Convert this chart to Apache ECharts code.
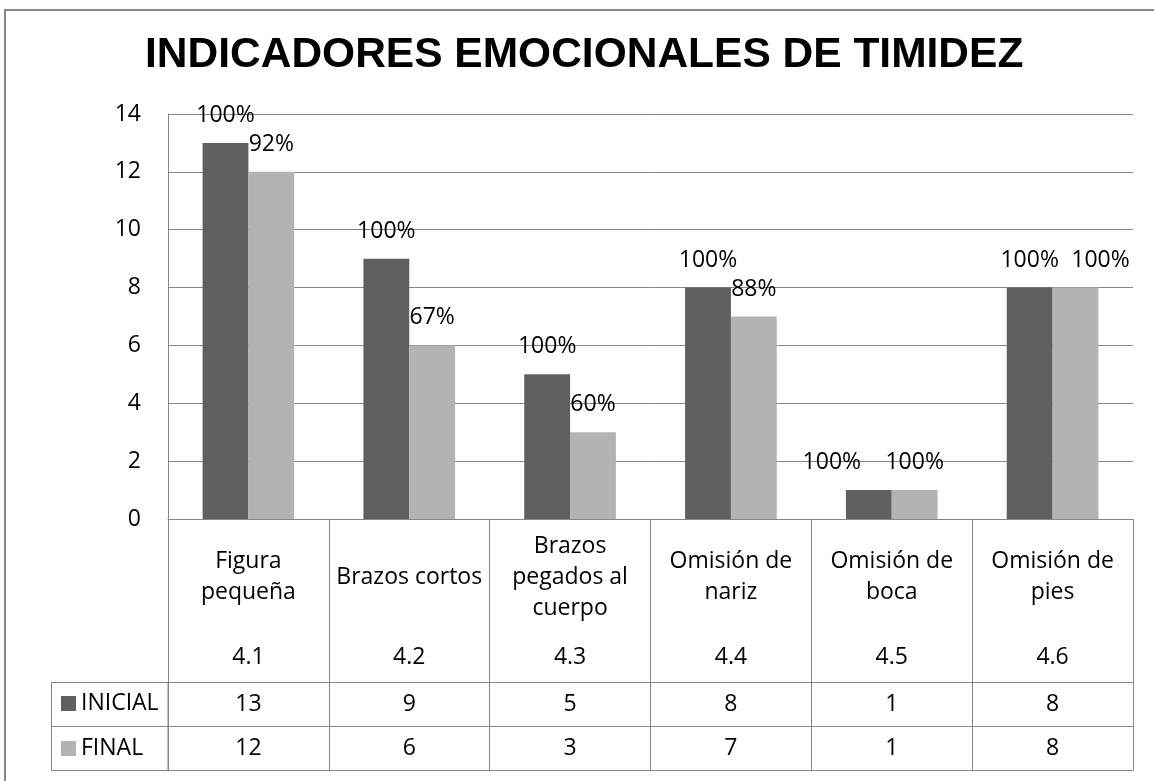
<!DOCTYPE html>
<html>
<head>
<meta charset="utf-8">
<title>Indicadores emocionales de timidez</title>
<script src="https://cdn.jsdelivr.net/npm/echarts@6.0.0/dist/echarts.min.js"></script>
<style>
    html, body { margin: 0; padding: 0; background: #fff; }
    #chart { width: 1154px; height: 781px; }
</style>
</head>
<body>
<div id="chart"></div>
<script>
// datos del grafico
var categories = ['Figura\npequeña', 'Brazos cortos', 'Brazos\npegados al\ncuerpo', 'Omisión de\nnariz', 'Omisión de\nboca', 'Omisión de\npies'];
var codes = ['4.1', '4.2', '4.3', '4.4', '4.5', '4.6'];
var seriesNames = ['INICIAL', 'FINAL'];
var inicial = [13, 9, 5, 8, 1, 8];
var finalVals = [12, 6, 3, 7, 1, 8];
var pctInicial = ['100%', '100%', '100%', '100%', '100%', '100%'];
var pctFinal = ['92%', '67%', '60%', '88%', '100%', '100%'];

var lineColor = '#878787';
var font = "'Open Sans', sans-serif";
var fs = 23;

var myChart = echarts.init(document.getElementById('chart'), null, {renderer: 'canvas'});

// eje extra para las filas de la tabla de datos
function rowAxis(offset, formatter, tickLen, margin) {
    return {
        type: 'category',
        gridIndex: 0,
        position: 'bottom',
        offset: offset,
        data: categories,
        axisLine: {show: true, lineStyle: {color: lineColor, width: 1}},
        axisTick: {show: tickLen > 0, interval: 0, length: tickLen, lineStyle: {color: lineColor, width: 1}},
        axisLabel: {
            show: !!formatter, interval: 0, margin: margin, verticalAlign: 'middle',
            fontSize: fs, fontFamily: font, color: '#000',
            formatter: formatter
        },
        splitLine: {show: false}
    };
}

var codeAxis = rowAxis(0, function (v, i) { return codes[i]; }, 0, 138);
codeAxis.axisLine.show = false;

var option = {
    animation: false,
    backgroundColor: '#fff',
    title: {
        text: 'INDICADORES EMOCIONALES DE TIMIDEZ',
        left: 140,
        top: 29,
        textStyle: {fontSize: 42.5, fontWeight: 'bold', fontFamily: "'Liberation Sans', Arial, sans-serif", color: '#000'}
    },
    legend: {
        data: seriesNames,
        orient: 'vertical',
        left: 61,
        top: 692,
        padding: 0,
        icon: 'rect',
        itemWidth: 15,
        itemHeight: 15,
        itemGap: 22,
        selectedMode: false,
        textStyle: {fontSize: fs, lineHeight: 22, fontFamily: font, color: '#000'}
    },
    grid: {left: 168, right: 21, top: 114, bottom: 262},
    xAxis: [
        {
            type: 'category',
            position: 'bottom',
            data: categories,
            axisLine: {show: true, lineStyle: {color: lineColor, width: 1}},
            axisTick: {show: true, interval: 0, length: 163, lineStyle: {color: lineColor, width: 1}},
            axisLabel: {
                interval: 0, margin: 58, verticalAlign: 'middle', lineHeight: 31,
                fontSize: fs, fontFamily: font, color: '#000'
            }
        },
        codeAxis,
        rowAxis(163, function (v, i) { return String(inicial[i]); }, 44, 22),
        rowAxis(207, function (v, i) { return String(finalVals[i]); }, 44, 22),
        rowAxis(251, null, 0, 0)
    ],
    yAxis: {
        type: 'value',
        min: 0,
        max: 14,
        interval: 2,
        axisLine: {show: true, lineStyle: {color: lineColor, width: 1}},
        axisTick: {show: false},
        axisLabel: {margin: 27, fontSize: fs, fontFamily: font, color: '#000'},
        splitLine: {show: true, lineStyle: {color: lineColor, width: 1}}
    },
    series: [
        {
            name: seriesNames[0],
            type: 'bar',
            barGap: '0%',
            barCategoryGap: '43%',
            itemStyle: {color: '#606060'},
            label: {
                show: true, position: 'top', distance: 16,
                fontSize: fs, fontFamily: font, color: '#000',
                formatter: function (p) { return pctInicial[p.dataIndex]; }
            },
            // la etiqueta de 4.5 esta corrida a la izquierda en el original
            data: inicial.map(function (v, i) {
                return i === 4 ? {value: v, label: {offset: [-37, 0]}} : v;
            })
        },
        {
            name: seriesNames[1],
            type: 'bar',
            barGap: '0%',
            barCategoryGap: '43%',
            itemStyle: {color: '#b3b3b3'},
            label: {
                show: true, position: 'top', distance: 16,
                fontSize: fs, fontFamily: font, color: '#000',
                formatter: function (p) { return pctFinal[p.dataIndex]; }
            },
            data: finalVals.map(function (v, i) {
                return i === 5 ? {value: v, label: {offset: [25, 0]}} : v;
            })
        }
    ],
    graphic: [
        // marco exterior
        {type: 'rect', shape: {x: 5, y: 10, width: 1250, height: 850}, style: {fill: null, stroke: lineColor, lineWidth: 2}, silent: true},
        // columna de la leyenda en la tabla
        {type: 'rect', shape: {x: 51.5, y: 682.5, width: 116.5, height: 88}, style: {fill: null, stroke: lineColor, lineWidth: 1}, silent: true},
        {type: 'line', shape: {x1: 51.5, y1: 726.5, x2: 168, y2: 726.5}, style: {stroke: lineColor, lineWidth: 1}, silent: true}
    ]
};

myChart.setOption(option);
</script>
</body>
</html>
